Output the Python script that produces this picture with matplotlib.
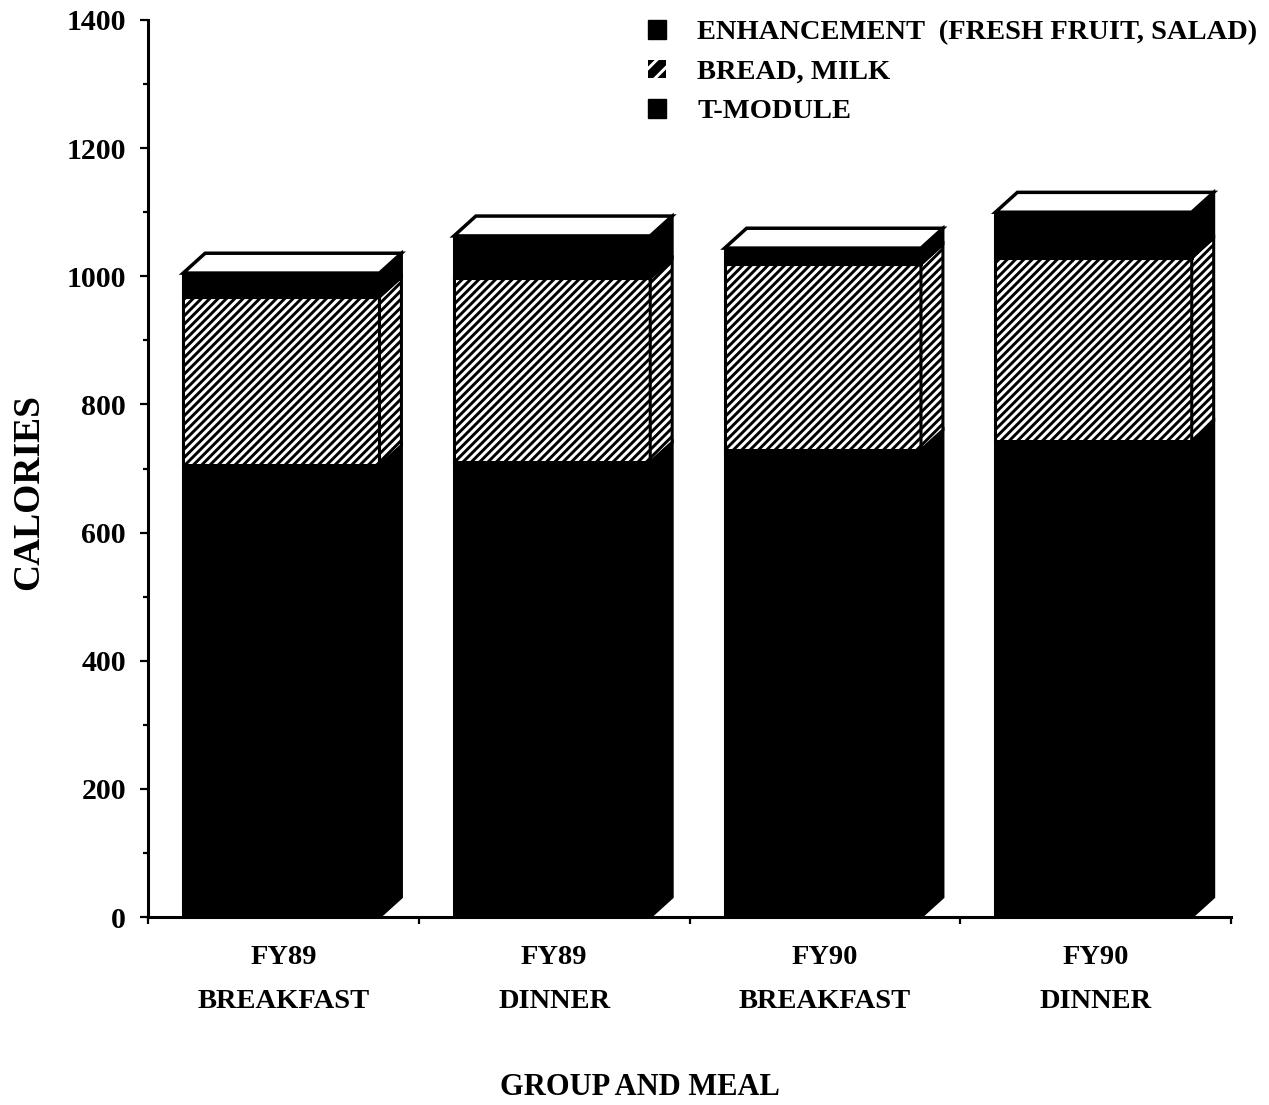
import matplotlib.pyplot as plt
from matplotlib.patches import Polygon, Patch

plt.rcParams["font.family"] = "Liberation Serif"
plt.rcParams["font.weight"] = "bold"
plt.rcParams["axes.labelweight"] = "bold"
plt.rcParams["hatch.linewidth"] = 2.1

# values (calories)
groups = ["FY89\nBREAKFAST", "FY89\nDINNER", "FY90\nBREAKFAST", "FY90\nDINNER"]
t_module = [705, 710, 729, 743]
bread_milk = [263, 287, 290, 286]
enhancement = [37, 66, 25, 71]
series_names = ["ENHANCEMENT  (FRESH FRUIT, SALAD)", "BREAD, MILK", "T-MODULE"]

DPI = 100
fig = plt.figure(figsize=(1269 / DPI, 1105 / DPI), dpi=DPI)
ax = fig.add_axes([148 / 1269, 188 / 1105, 1083 / 1269, 897 / 1105])

LEFT = 0.13
WIDTH = 0.725
DX, DY = 0.081, 31  # fake depth of the boxes

for i in range(len(groups)):
    x0 = i + LEFT
    x1 = x0 + WIDTH
    bottom = 0
    for vals, hatch in [(t_module, None), (bread_milk, "////"), (enhancement, None)]:
        h = vals[i]
        fc = "white" if hatch else "black"
        ax.bar(x0, h, WIDTH, bottom=bottom, align="edge", facecolor=fc,
               edgecolor="black", hatch=hatch, linewidth=2.2, zorder=3)
        side = [(x1, bottom), (x1 + DX, bottom + DY),
                (x1 + DX, bottom + h + DY), (x1, bottom + h)]
        ax.add_patch(Polygon(side, closed=True, facecolor=fc, edgecolor="black",
                             hatch=hatch, linewidth=2.2, zorder=3))
        bottom += h
    top = [(x0, bottom), (x0 + DX, bottom + DY),
           (x1 + DX, bottom + DY), (x1, bottom)]
    ax.add_patch(Polygon(top, closed=True, facecolor="white", edgecolor="black",
                         linewidth=2.5, zorder=4))

ax.set_xlim(0, 4)
ax.set_ylim(0, 1400)
for s in ["top", "right"]:
    ax.spines[s].set_visible(False)
ax.spines["left"].set_linewidth(2.2)
ax.spines["bottom"].set_linewidth(2.2)

ax.set_yticks(range(0, 1401, 200))
ax.set_yticks(range(100, 1400, 200), minor=True)
ax.tick_params(axis="y", which="major", length=5.8, width=1.6, pad=10, labelsize=21.5)
ax.tick_params(axis="y", which="minor", length=3.6, width=1.6)

ax.set_xticks(range(0, 5))
ax.set_xticklabels([])
ax.set_xticks([i + 0.5 for i in range(len(groups))], minor=True)
ax.set_xticklabels(groups, minor=True, linespacing=2.0)
ax.tick_params(axis="x", which="major", length=5, width=1.6)
ax.tick_params(axis="x", which="minor", length=0, pad=20, labelsize=20.5)

ax.set_ylabel("CALORIES", fontsize=27)
ax.yaxis.set_label_coords(-0.094, 0.474)
ax.set_xlabel("GROUP AND MEAL", fontsize=22)
ax.xaxis.set_label_coords(0.454, -0.174)

handles = [Patch(facecolor="black", edgecolor="black"),
           Patch(facecolor="black", edgecolor="white", hatch="//", linewidth=0),
           Patch(facecolor="black", edgecolor="black")]
ax.legend(handles, series_names, loc="upper left",
          bbox_to_anchor=(648 / 1269, 1 - 20 / 1105),
          bbox_transform=fig.transFigure, frameon=False, fontsize=20.5,
          handlelength=0.63, handleheight=0.63, handletextpad=1.1,
          labelspacing=0.5, borderpad=0, borderaxespad=0)

fig.savefig("out.png", dpi=DPI)
